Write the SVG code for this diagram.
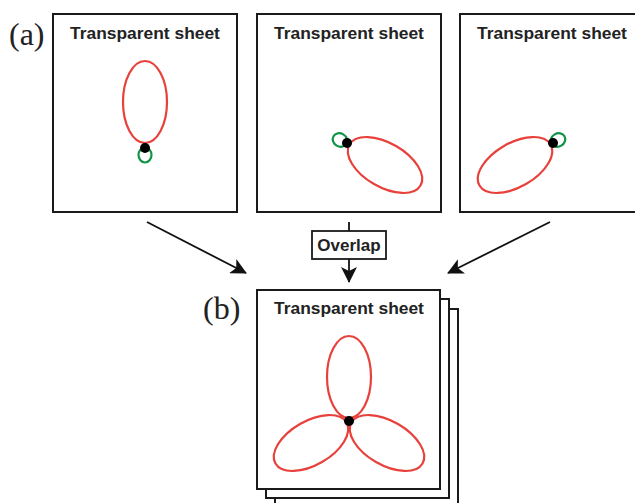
<svg xmlns="http://www.w3.org/2000/svg" width="635" height="503" viewBox="0 0 635 503">
<style>
.sheet{fill:#fff;stroke:#1a1a1a;stroke-width:2}
.title{font-family:"Liberation Sans",Arial,sans-serif;font-weight:bold;font-size:17.4px;fill:#222;text-anchor:middle}
.lab{font-family:"Liberation Serif","Times New Roman",serif;font-size:32px;fill:#222}
.lobe{fill:none;stroke:#e8413b;stroke-width:2.2}
.loop{fill:none;stroke:#119447;stroke-width:2.2}
.dot{fill:#000}
.conn{stroke:#111;stroke-width:1.8;fill:none}
</style>
<defs>
<marker id="ah" viewBox="0 0 16 16" refX="15" refY="8" markerWidth="16" markerHeight="16" markerUnits="userSpaceOnUse" orient="auto">
<path d="M0,0 L16,8 L0,16 L4,8 z" fill="#111"/>
</marker>
</defs>
<text class="lab" x="9" y="45">(a)</text>
<text class="lab" x="203" y="319">(b)</text>
<g id="sheet1">
<rect class="sheet" x="53" y="14" width="184" height="198"/>
<text class="title" x="145" y="39">Transparent sheet</text>
<ellipse class="lobe" cx="145" cy="102" rx="22" ry="41"/>
<ellipse class="loop" cx="145" cy="155" rx="6.5" ry="7.5"/>
<circle class="dot" cx="145" cy="148" r="5"/>
</g>
<g id="sheet2">
<rect class="sheet" x="257" y="14" width="184" height="198"/>
<text class="title" x="349" y="39">Transparent sheet</text>
<ellipse class="lobe" cx="0" cy="0" rx="22" ry="41" transform="translate(385,165) rotate(-60)"/>
<ellipse class="loop" cx="0" cy="0" rx="6.5" ry="7.5" transform="translate(340,140) rotate(-60)"/>
<circle class="dot" cx="347" cy="143" r="5"/>
</g>
<g id="sheet3">
<rect class="sheet" x="460" y="14" width="184" height="198"/>
<text class="title" x="552" y="39">Transparent sheet</text>
<ellipse class="lobe" cx="0" cy="0" rx="22" ry="41" transform="translate(515,165) rotate(60)"/>
<ellipse class="loop" cx="0" cy="0" rx="6.5" ry="7.5" transform="translate(558,140) rotate(60)"/>
<circle class="dot" cx="553" cy="143" r="5"/>
</g>
<g id="overlap">
<rect x="312" y="231" width="74" height="28" fill="#fff" stroke="#1a1a1a" stroke-width="1.8"/>
<text x="349" y="251" font-family="'Liberation Sans',Arial,sans-serif" font-weight="bold" font-size="17px" fill="#222" text-anchor="middle">Overlap</text>
</g>
<g id="connectors">
<line class="conn" x1="349" y1="222" x2="349" y2="231"/>
<line class="conn" x1="349" y1="259" x2="349" y2="282" marker-end="url(#ah)"/>
<line class="conn" x1="147" y1="222" x2="246" y2="273" marker-end="url(#ah)"/>
<line class="conn" x1="550" y1="222" x2="448" y2="273" marker-end="url(#ah)"/>
</g>
<g id="result">
<rect class="sheet" x="275" y="309" width="183" height="199"/>
<rect class="sheet" x="266" y="299" width="183" height="199"/>
<rect class="sheet" x="257" y="290" width="183" height="199"/>
<text class="title" x="349" y="314">Transparent sheet</text>
<ellipse class="lobe" cx="349" cy="377" rx="22" ry="41"/>
<ellipse class="lobe" cx="0" cy="0" rx="22" ry="41" transform="translate(387,443) rotate(-60)"/>
<ellipse class="lobe" cx="0" cy="0" rx="22" ry="41" transform="translate(311,443) rotate(60)"/>
<circle class="dot" cx="349" cy="421" r="5"/>
</g>
</svg>
